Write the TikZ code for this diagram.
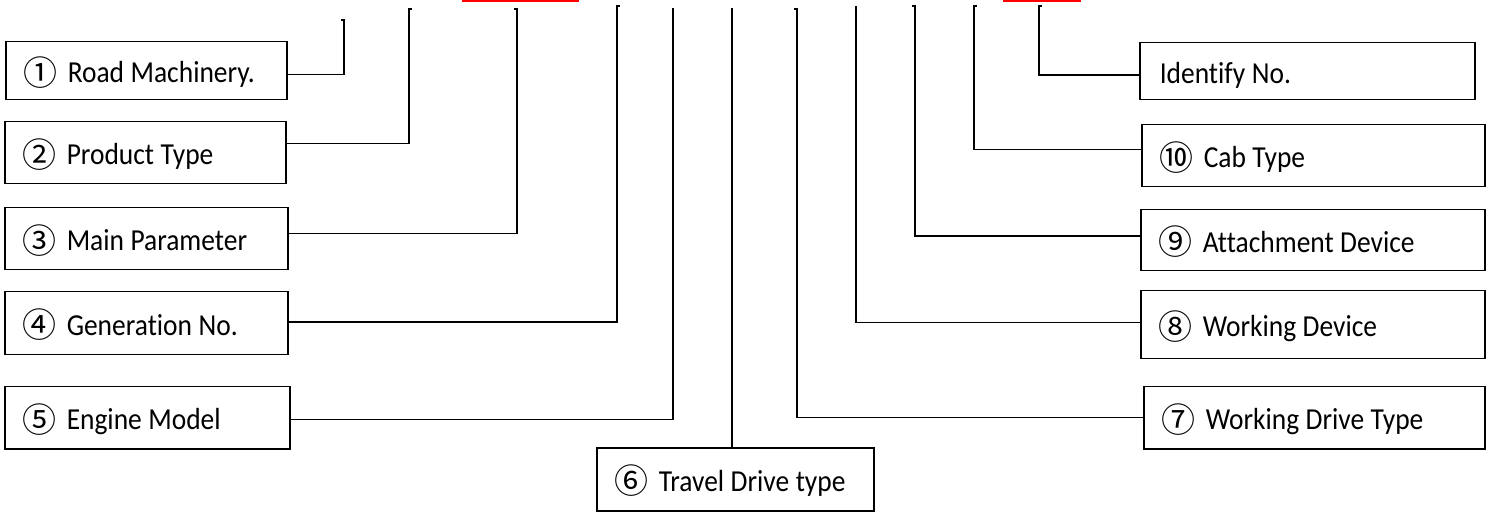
\documentclass[tikz,border=0pt]{standalone}
\usepackage{fontspec}
\setmainfont{Carlito}[FakeStretch=0.9,Ligatures=NoCommon]
\newfontfamily\cjk{Noto Sans CJK SC}
\begin{document}
\begin{tikzpicture}[x=1pt,y=-1pt,
  box/.style={draw=black,line width=1.5pt,anchor=north west,inner xsep=20pt,inner ysep=0pt,
    align=left,text height=30pt,text depth=6pt,font=\fontsize{30.5}{33}\selectfont},
  conn/.style={draw=black,line width=1.5pt},
  redbar/.style={draw=red,line width=3pt}]
\useasboundingbox (0,0) rectangle (1486,518);
\newcommand{\lab}[2]{\mbox{\spaceskip=6.5pt\relax\hspace*{-2pt}\raisebox{-2.5pt}{\cjk\fontsize{34}{36}\selectfont #1}\hspace{10pt}#2}}
% left boxes
\node[box,minimum width=281pt,minimum height=58pt,text width=241pt] (b1) at (5,41) {\lab{①}{Road Machinery.}};
\node[box,minimum width=281pt,minimum height=62pt,text width=241pt] (b2) at (4,121) {\lab{②}{Product Type}};
\node[box,minimum width=283pt,minimum height=62pt,text width=243pt] (b3) at (4,207) {\lab{③}{Main Parameter}};
\node[box,minimum width=283pt,minimum height=63pt,text width=243pt] (b4) at (4,291) {\lab{④}{Generation No.}};
\node[box,minimum width=285pt,minimum height=62pt,text width=245pt] (b5) at (4,386) {\lab{⑤}{Engine Model}};
\node[box,minimum width=277pt,minimum height=63pt,text width=237pt] (b6) at (596,447) {\lab{⑥}{Travel Drive type}};
% right boxes
\node[box,minimum width=335pt,minimum height=57pt,text width=295pt] (b11) at (1139,42) {\mbox{\spaceskip=6.5pt\relax Identify No.}};
\node[box,minimum width=343pt,minimum height=62pt,text width=303pt] (b10) at (1141,124) {\lab{⑩}{Cab Type}};
\node[box,minimum width=344pt,minimum height=61pt,text width=304pt] (b9) at (1140,209) {\lab{⑨}{Attachment Device}};
\node[box,minimum width=344pt,minimum height=68pt,text width=304pt] (b8) at (1140,290) {\lab{⑧}{Working Device}};
\node[box,minimum width=341pt,minimum height=62pt,text width=301pt] (b7) at (1143,386) {\lab{⑦}{Working Drive Type}};
% top ends
\coordinate (t1) at (344,20);
\coordinate (t2) at (409,9);
\coordinate (t3) at (517,9);
\coordinate (t4) at (617,6);
\coordinate (t5) at (673,8);
\coordinate (t6) at (732,8);
\coordinate (t7) at (797,9);
\coordinate (t8) at (856,6);
\coordinate (t9) at (915,6);
\coordinate (t10) at (974,6);
\coordinate (t11) at (1039,6);
% connectors
\draw[conn] ([yshift=-4pt]b1.east) -| (t1) -- ++(-3,0);
\draw[conn] ([yshift=9pt]b2.east) -| (t2) -- ++(3,0);
\draw[conn] ([yshift=5pt]b3.east) -| (t3) -- ++(-3,0);
\draw[conn] ([yshift=1pt]b4.east) -| (t4) -- ++(3,0);
\draw[conn] ([yshift=-2pt]b5.east) -| (t5);
\draw[conn] (b6.north -| t6) -- (t6);
\draw[conn] (b7.west) -| (t7) -- ++(-3,0);
\draw[conn] ([yshift=2pt]b8.west) -| (t8);
\draw[conn] ([yshift=4pt]b9.west) -| (t9) -- ++(-3,0);
\draw[conn] ([yshift=6pt]b10.west) -| (t10) -- ++(3,0);
\draw[conn] ([yshift=-4pt]b11.west) -| (t11) -- ++(3,0);
% red marks at top
\coordinate (r1a) at (462,1); \coordinate (r1b) at (579,1);
\coordinate (r2a) at (1003,1); \coordinate (r2b) at (1081,1);
\draw[redbar] (r1a) -- (r1b);
\draw[redbar] (r2a) -- (r2b);
\end{tikzpicture}
\end{document}
